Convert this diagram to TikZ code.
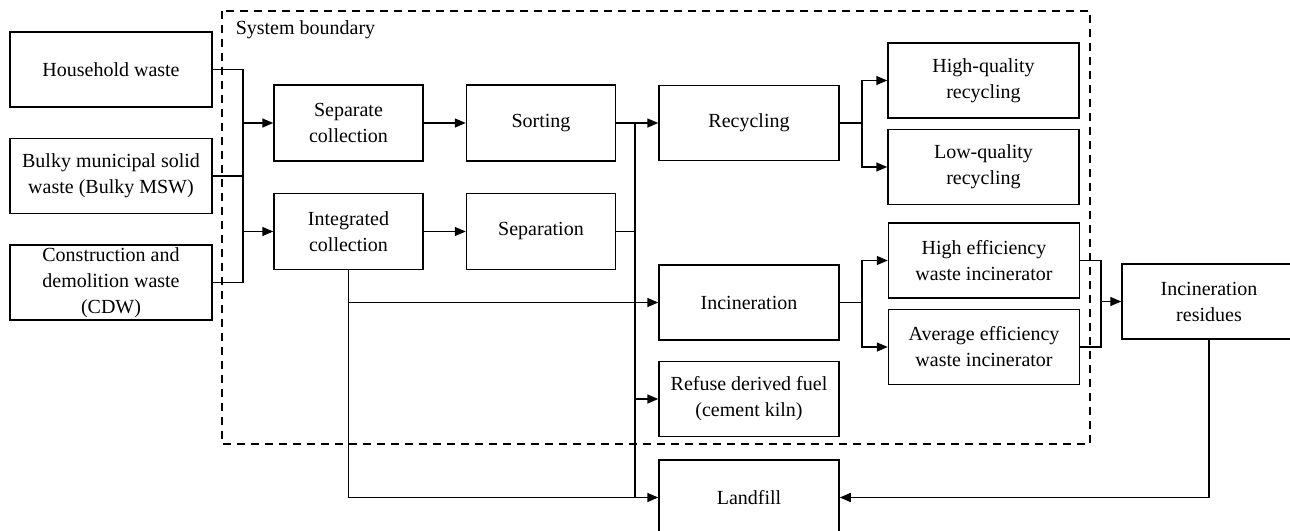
\documentclass[tikz,border=0pt]{standalone}
\usepackage{fontspec}
\setmainfont{Liberation Serif}
\usetikzlibrary{arrows.meta,positioning}
\tikzset{
  >={Triangle[length=5.5pt,width=4.5pt]},
  waste/.style={font=\fontsize{10}{13}\selectfont, line width=0.75pt},
  srcbox/.style={
    rectangle, minimum width=101pt, minimum height=37.5pt,
    inner sep=1pt, draw, align=center
  },
  collbox/.style={
    rectangle, minimum width=74.5pt, minimum height=38pt,
    inner sep=1pt, draw, align=center
  },
  treatbox/.style={
    rectangle, minimum width=90pt, minimum height=37.5pt,
    inner sep=1pt, draw, align=center
  },
  subbox/.style={
    rectangle, minimum width=95.5pt, minimum height=37.5pt,
    inner sep=1pt, draw, align=center
  },
  boundary/.style={dashed, dash pattern=on 4pt off 3pt, line width=0.7pt},
  arrow/.style={->}
}
\begin{document}
\begin{tikzpicture}[waste, x=0.5pt, y=-0.5pt]
\useasboundingbox (0,0) rectangle (1290,530);

% 0 : System boundary
\draw[boundary] (222,11) rectangle (1090,444);
\node[anchor=west, inner sep=0pt] (sysbound) at (235,30) {System boundary};

% 1 : Waste sources
\node[srcbox] (house) at (111,69.5) {Household waste};
\node[srcbox, below=15pt of house] (bulky) {Bulky municipal solid\\waste (Bulky MSW)};
\node[srcbox, below=15pt of bulky] (cdw) {Construction and\\demolition waste\\(CDW)};

% 2 : Collection
\node[collbox] (sepcoll) at (348.5,123) {Separate\\collection};
\node[collbox, below=15.5pt of sepcoll] (intcoll) {Integrated\\collection};
\coordinate (jsrc) at (243,123);
\draw (house.east) -- (house.east -| jsrc) -- (cdw.east -| jsrc) -- (cdw.east);
\draw (bulky.east) -- (bulky.east -| jsrc);
\draw[arrow] (sepcoll.west -| jsrc) -- (sepcoll.west);
\draw[arrow] (intcoll.west -| jsrc) -- (intcoll.west);

% 3 : Sorting / separation
\node[collbox, right=21pt of sepcoll] (sorting) {Sorting};
\node[collbox, right=21pt of intcoll] (separation) {Separation};
\draw[arrow] (sepcoll) -- (sorting);
\draw[arrow] (intcoll) -- (separation);

% 4 : Treatment
\node[treatbox, right=21pt of sorting] (recyc) {Recycling};
\node[treatbox, below=51.5pt of recyc] (incin) {Incineration};
\node[treatbox, below=10pt of incin] (rdf) {Refuse derived fuel\\(cement kiln)};
\node[treatbox, below=11pt of rdf] (landfill) {Landfill};
\coordinate (jmid) at (635,123);
\draw[arrow] (sorting) -- (recyc);
\draw (separation.east) -- (separation.east -| jmid);
\draw (sorting.east -| jmid) -- (landfill.west -| jmid);
\draw[arrow] (rdf.west -| jmid) -- (rdf.west);
\draw[arrow] (intcoll.south) |- (landfill.west);
\draw[arrow] (intcoll.south |- incin.west) -- (incin.west);

% 5 : Recycling quality
\node[subbox] (hq) at (983.5,80.5) {High-quality\\recycling};
\node[subbox, below=5pt of hq] (lq) {Low-quality\\recycling};
\coordinate (jrec) at (862,123);
\draw[arrow] (recyc.east) -- (recyc.east -| jrec) |- (hq.west);
\draw[arrow] (recyc.east -| jrec) |- (lq.west);

% 6 : Incinerators
\node[subbox] (heff) at (984,260.5) {High efficiency\\waste incinerator};
\node[subbox, below=5pt of heff] (aeff) {Average efficiency\\waste incinerator};
\coordinate (jinc) at (862,301.5);
\draw[arrow] (incin.east) -- (incin.east -| jinc) |- (heff.west);
\draw[arrow] (incin.east -| jinc) |- (aeff.west);

% 7 : Residues
\node[srcbox, minimum width=87pt] (resid) at (1209,301.5) {Incineration\\residues};
\coordinate (jres) at (1101,301.5);
\draw (heff.east) -- (heff.east -| jres) -- (aeff.east -| jres) -- (aeff.east);
\draw[arrow] (resid.west -| jres) -- (resid.west);
\draw[arrow] (resid.south) |- (landfill.east);

\end{tikzpicture}
\end{document}
